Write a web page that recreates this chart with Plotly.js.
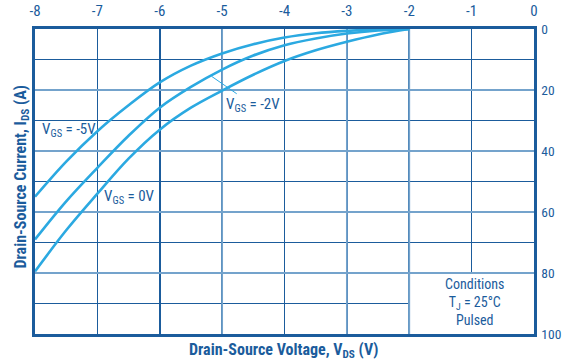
<!DOCTYPE html>
<html>
<head>
<meta charset="utf-8">
<script src="https://cdn.plot.ly/plotly-3.0.1.min.js"></script>
<style>
  html, body { margin: 0; padding: 0; background: #ffffff; }
  #chart { width: 563px; height: 364px; }
</style>
</head>
<body>
<div id="chart"></div>
<script>
// Drain-source characteristics, Tj = 25°C, pulsed
const vds = [-8, -7.5, -7, -6.5, -6, -5.5, -5, -4.5, -4, -3.5, -3, -2.5, -2];

const idsVgsMinus5 = [55, 43.5, 33.5, 25, 17.5, 12, 8, 5, 2.8, 1.4, 0.6, 0.15, 0];
const idsVgsMinus2 = [69, 56.5, 45.5, 35, 25.8, 19, 13.3, 8.7, 5.3, 3.1, 1.5, 0.5, 0];
const idsVgsZero   = [79.5, 66, 54, 42.5, 33, 25.8, 20.2, 15, 10.5, 7, 4.2, 1.8, 0];

const xTicks = [-8, -7, -6, -5, -4, -3, -2, -1, 0];
const yTicks = [0, 20, 40, 60, 80, 100];
const lightVLines = [-5, -3, -2];

const DARK = '#1b5c9c';
const LIGHT = '#74a3cc';
const CURVE = '#2ba9e1';
const FONT = '"Liberation Sans Narrow", "Roboto Condensed", "DejaVu Sans Condensed", Roboto, sans-serif';

function curve(x, y, name) {
  return {
    x: x, y: y, name: name, type: 'scatter', mode: 'lines',
    line: { color: CURVE, width: 2.6, shape: 'spline', smoothing: 1 },
    hoverinfo: 'skip'
  };
}

const traces = [
  curve(vds, idsVgsMinus5, 'VGS = -5V'),
  curve(vds, idsVgsMinus2, 'VGS = -2V'),
  curve(vds, idsVgsZero, 'VGS = 0V')
];

const shapes = lightVLines.map(v => ({
  type: 'line', xref: 'x', yref: 'y', x0: v, x1: v, y0: 0, y1: 100,
  layer: 'between', line: { color: LIGHT, width: 1.8 }
}));

// blank panel for the test conditions
shapes.push({
  type: 'rect', xref: 'x', yref: 'y', x0: -2, x1: 0, y0: 80, y1: 100,
  layer: 'between', fillcolor: '#ffffff', line: { width: 0 }
});
shapes.push({
  type: 'line', xref: 'x', yref: 'y', x0: -2, x1: 0, y0: 80, y1: 80,
  layer: 'between', line: { color: LIGHT, width: 1.8 }
});
shapes.push({
  type: 'line', xref: 'x', yref: 'y', x0: -2, x1: -2, y0: 80, y1: 100,
  layer: 'between', line: { color: LIGHT, width: 1.8 }
});

const labelFont = { family: FONT, size: 15, color: DARK };

const annotations = [
  { x: -7.45, y: 33, xref: 'x', yref: 'y', text: 'V<sub>GS</sub> = -5V',
    showarrow: false, font: labelFont },
  { x: -6.49, y: 55.2, xref: 'x', yref: 'y', text: 'V<sub>GS</sub> = 0V',
    showarrow: false, font: labelFont },
  { x: -5.17, y: 15.5, xref: 'x', yref: 'y', text: 'V<sub>GS</sub> = -2V',
    ax: -4.5, ay: 25, axref: 'x', ayref: 'y',
    showarrow: true, arrowhead: 0, arrowwidth: 1, arrowcolor: CURVE,
    standoff: 0, font: labelFont },
  { x: -0.96, y: 89.5, xref: 'x', yref: 'y',
    text: 'Conditions<br>T<sub>J</sub> = 25°C<br>Pulsed',
    showarrow: false, align: 'center',
    font: { family: FONT, size: 14, color: DARK } },
  { x: 0.497, y: -0.012, xref: 'paper', yref: 'paper', yanchor: 'top',
    text: '<b>Drain-Source Voltage, V<sub>DS</sub> (V)</b>',
    showarrow: false, font: { family: FONT, size: 16, color: DARK } },
  { x: -0.052, y: 0.515, xref: 'paper', yref: 'paper', textangle: -90,
    text: '<b>Drain-Source Current, I<sub>DS</sub> (A)</b>',
    showarrow: false, font: { family: FONT, size: 16, color: DARK } }
];

const layout = {
  width: 563, height: 364,
  margin: { l: 35, r: 29, t: 29, b: 30, pad: 0 },
  paper_bgcolor: '#ffffff', plot_bgcolor: '#ffffff',
  showlegend: false,
  font: { family: FONT, color: DARK, size: 15 },
  xaxis: {
    range: [-8, 0], side: 'top', tickvals: xTicks,
    ticktext: xTicks.map(String),
    showgrid: true, gridcolor: DARK, gridwidth: 1.6,
    zeroline: false, showline: true, mirror: true,
    linecolor: DARK, linewidth: 2.6, ticks: '',
    ticklabelstandoff: 4,
    tickfont: { family: FONT, size: 15, color: DARK }
  },
  yaxis: {
    range: [100, 0], side: 'right', tickvals: yTicks,
    showgrid: true, gridcolor: LIGHT, gridwidth: 1.8,
    minor: { dtick: 10, showgrid: true, gridcolor: DARK, gridwidth: 1.6 },
    zeroline: false, showline: true, mirror: true,
    linecolor: DARK, linewidth: 2.6, ticks: '',
    ticklabelstandoff: 2,
    tickfont: { family: FONT, size: 13.5, color: DARK }
  },
  shapes: shapes,
  annotations: annotations
};

Plotly.newPlot('chart', traces, layout, { staticPlot: true, displayModeBar: false });
</script>
</body>
</html>
